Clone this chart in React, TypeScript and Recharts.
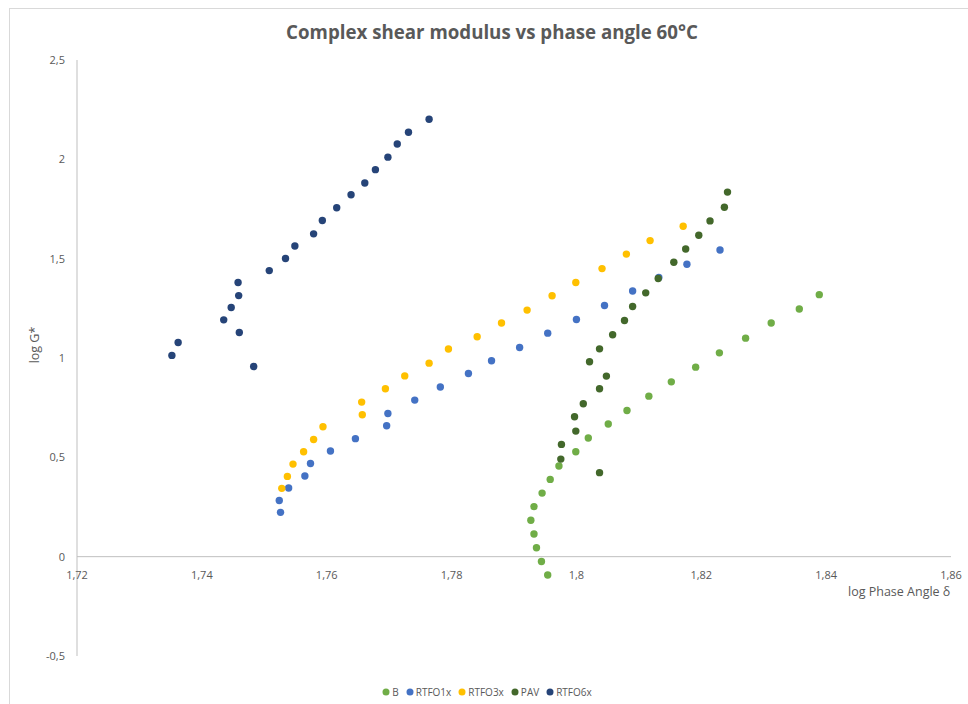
import React from "react";
import { ScatterChart, Scatter, XAxis, YAxis, Legend, ReferenceLine } from "recharts";

// log phase angle (x) and log G* (y) per binder state
const bX = [1.8389, 1.8357, 1.8312, 1.8271, 1.8229, 1.8191, 1.8152, 1.8116, 1.8081, 1.8051, 1.8019, 1.7999, 1.7972, 1.7958, 1.7945, 1.7932, 1.7927, 1.7932, 1.7936, 1.7944, 1.7954];
const bY = [1.319, 1.247, 1.176, 1.1, 1.026, 0.954, 0.88, 0.808, 0.736, 0.668, 0.597, 0.528, 0.456, 0.389, 0.32, 0.252, 0.183, 0.114, 0.045, -0.024, -0.092];

const rtfo1X = [1.823, 1.8177, 1.8132, 1.809, 1.8045, 1.8, 1.7954, 1.7909, 1.7864, 1.7827, 1.7782, 1.7741, 1.7698, 1.7696, 1.7646, 1.7606, 1.7574, 1.7565, 1.7539, 1.7524, 1.7526];
const rtfo1Y = [1.544, 1.472, 1.405, 1.337, 1.264, 1.194, 1.125, 1.053, 0.986, 0.922, 0.854, 0.788, 0.721, 0.659, 0.594, 0.532, 0.469, 0.406, 0.346, 0.283, 0.223];

const rtfo3X = [1.8171, 1.8118, 1.808, 1.8041, 1.7999, 1.7961, 1.7921, 1.788, 1.7841, 1.7795, 1.7764, 1.7725, 1.7694, 1.7656, 1.7657, 1.7594, 1.7579, 1.7563, 1.7546, 1.7537, 1.7528];
const rtfo3Y = [1.663, 1.591, 1.523, 1.45, 1.38, 1.313, 1.241, 1.176, 1.107, 1.045, 0.974, 0.91, 0.845, 0.778, 0.714, 0.654, 0.59, 0.528, 0.466, 0.404, 0.344];

const pavX = [1.8242, 1.8237, 1.8214, 1.8196, 1.8175, 1.8156, 1.8131, 1.8111, 1.809, 1.8077, 1.8058, 1.8037, 1.8021, 1.8048, 1.8037, 1.8011, 1.7997, 1.7999, 1.7976, 1.7975, 1.8037];
const pavY = [1.835, 1.759, 1.69, 1.618, 1.549, 1.482, 1.4, 1.328, 1.259, 1.189, 1.117, 1.046, 0.981, 0.909, 0.845, 0.77, 0.704, 0.632, 0.565, 0.491, 0.423];

const rtfo6X = [1.7764, 1.7731, 1.7713, 1.7698, 1.7678, 1.7661, 1.7639, 1.7616, 1.7593, 1.7579, 1.7549, 1.7534, 1.7508, 1.7458, 1.7459, 1.7447, 1.7435, 1.746, 1.7362, 1.7352, 1.7483];
const rtfo6Y = [2.202, 2.136, 2.077, 2.011, 1.948, 1.881, 1.822, 1.756, 1.692, 1.625, 1.564, 1.501, 1.44, 1.38, 1.314, 1.254, 1.192, 1.128, 1.078, 1.013, 0.957];

const xTicks = [1.72, 1.74, 1.76, 1.78, 1.8, 1.82, 1.84, 1.86];
const yTicks = [-0.5, 0, 0.5, 1, 1.5, 2, 2.5];

const toPoints = (xs: number[], ys: number[]) => xs.map((x, i) => ({ x, y: ys[i] }));

const series = [
  { name: "B", color: "#70AD47", data: toPoints(bX, bY) },
  { name: "RTFO1x", color: "#4472C4", data: toPoints(rtfo1X, rtfo1Y) },
  { name: "RTFO3x", color: "#FFC000", data: toPoints(rtfo3X, rtfo3Y) },
  { name: "PAV", color: "#43682B", data: toPoints(pavX, pavY) },
  { name: "RTFO6x", color: "#264478", data: toPoints(rtfo6X, rtfo6Y) },
];

const W = 968;
const H = 704;
const MARGIN = { top: 60, right: 17, bottom: 6, left: 10 };
const Y_AXIS_W = 67;
const X_AXIS_H = 24;
const PLOT_H = 596;
const FONT = "'Open Sans', sans-serif";
const TEXT = "#595959";
const AXIS = "#BFBFBF";

const fmt = (v: number) => String(v).replace(".", ",");

// x labels sit under the y=0 line, not at the bottom of the plot
const zeroShift = (PLOT_H * (0 - yTicks[0])) / (yTicks[yTicks.length - 1] - yTicks[0]);

function XTick({ x, y, payload }: any) {
  return (
    <text x={x} y={y - zeroShift + 20} textAnchor="middle" fill={TEXT} fontSize={11} fontFamily={FONT}>
      {fmt(payload.value)}
    </text>
  );
}

const Dot = (props: any) => <circle cx={props.cx} cy={props.cy} r={3.7} fill={props.fill} />;

function LegendRow() {
  return (
    <div
      style={{
        display: "flex",
        justifyContent: "center",
        alignItems: "center",
        paddingTop: 5,
        paddingLeft: 20,
        fontSize: 10,
        fontFamily: FONT,
        color: TEXT,
      }}
    >
      {series.map((s) => (
        <span key={s.name} style={{ display: "inline-flex", alignItems: "center", marginRight: 7 }}>
          <svg width={8} height={8} style={{ marginRight: 2 }}>
            <circle cx={4} cy={4} r={3.5} fill={s.color} />
          </svg>
          {s.name}
        </span>
      ))}
    </div>
  );
}

export default function App() {
  return (
    <div style={{ position: "absolute", left: 0, top: 0, width: W, height: H, background: "#fff", fontFamily: FONT }}>
      <div style={{ position: "absolute", left: 9, top: 8, right: -2, bottom: -2, border: "1px solid #D9D9D9" }} />
      <div
        style={{
          position: "absolute",
          top: 19,
          left: 0,
          width: 984,
          textAlign: "center",
          fontSize: 18.7,
          fontWeight: 700,
          color: TEXT,
        }}
      >
        Complex shear modulus vs phase angle 60°C
      </div>
      <div style={{ position: "absolute", left: 848, top: 583, fontSize: 12.5, color: TEXT }}>log Phase Angle δ</div>
      <div
        style={{
          position: "absolute",
          left: 34,
          top: 345,
          fontSize: 12.5,
          color: TEXT,
          transform: "translate(-50%, -50%) rotate(-90deg)",
          whiteSpace: "nowrap",
        }}
      >
        log G*
      </div>
      <ScatterChart width={W} height={H} margin={MARGIN} style={{ position: "absolute", left: 0, top: 0 }}>
        <XAxis
          type="number"
          dataKey="x"
          domain={[xTicks[0], xTicks[xTicks.length - 1]]}
          ticks={xTicks}
          interval={0}
          height={X_AXIS_H}
          axisLine={false}
          tickLine={false}
          tickSize={0}
          tick={<XTick />}
        />
        <YAxis
          type="number"
          dataKey="y"
          domain={[yTicks[0], yTicks[yTicks.length - 1]]}
          ticks={yTicks}
          interval={0}
          width={Y_AXIS_W}
          axisLine={{ stroke: AXIS }}
          tickLine={false}
          tickSize={0}
          tickMargin={12}
          tickFormatter={fmt}
          tick={{ fill: TEXT, fontSize: 11, fontFamily: FONT }}
        />
        <ReferenceLine y={0} stroke={AXIS} />
        {series.map((s) => (
          <Scatter
            key={s.name}
            name={s.name}
            data={s.data}
            fill={s.color}
            shape={<Dot />}
            isAnimationActive={false}
          />
        ))}
        <Legend verticalAlign="bottom" align="center" height={18} content={<LegendRow />} />
      </ScatterChart>
    </div>
  );
}
